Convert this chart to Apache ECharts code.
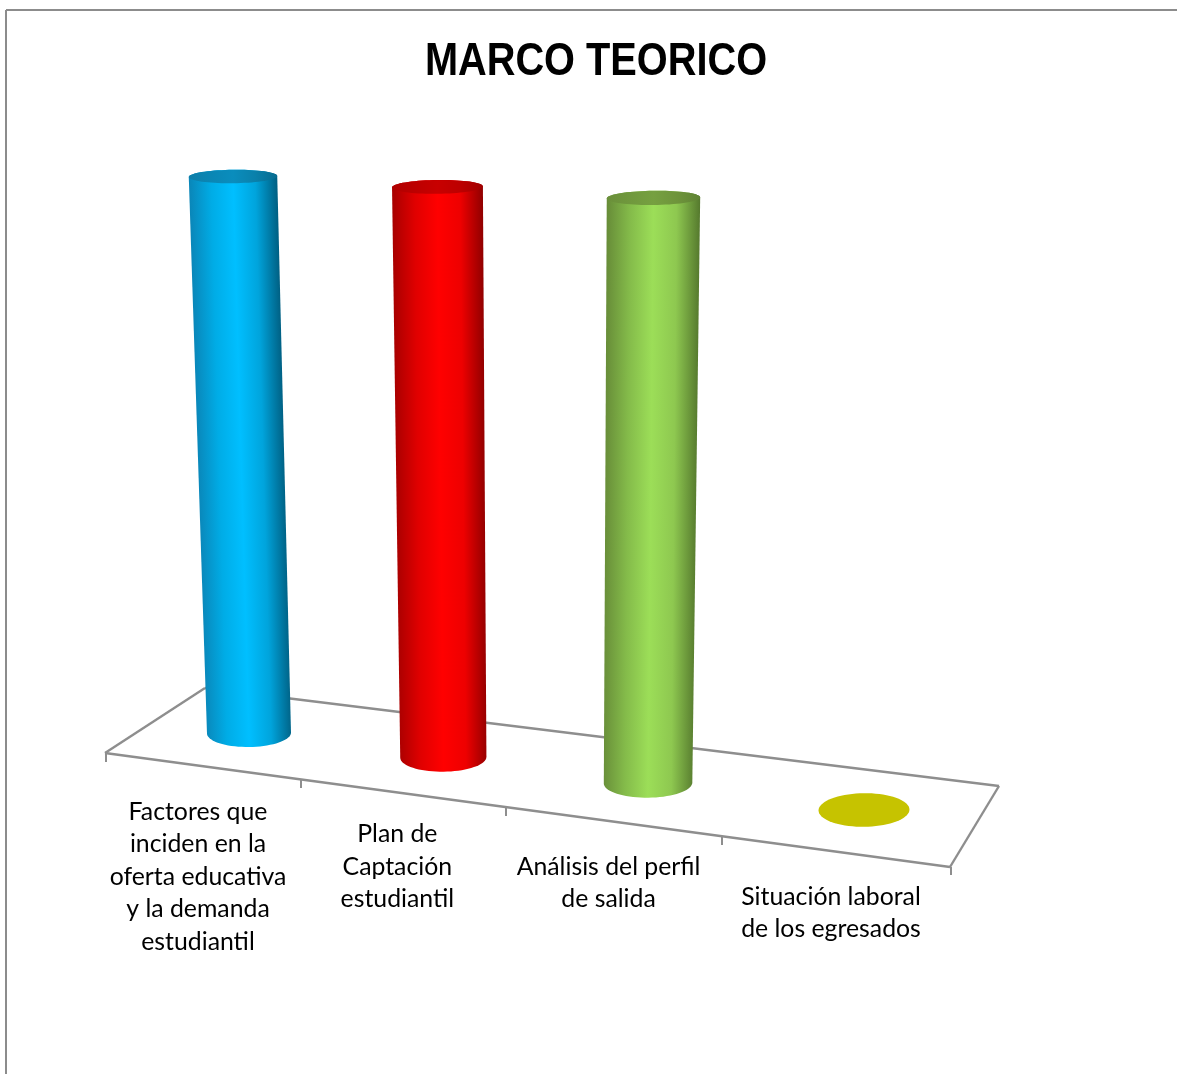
<!DOCTYPE html>
<html>
<head>
<meta charset="utf-8">
<style>html,body{margin:0;padding:0;background:#fff}#c{width:1177px;height:1074px}</style>
<script src="https://cdn.jsdelivr.net/npm/echarts@6/dist/echarts.min.js"></script>
</head>
<body>
<div id="c"></div>
<script>
const chartTitle = 'MARCO TEORICO';
const categories = [
  'Factores que\ninciden en la\noferta educativa\ny la demanda\nestudiantil',
  'Plan de\nCaptación\nestudiantil',
  'Análisis del perfil\nde salida',
  'Situación laboral\nde los egresados'
];
const values = [100, 100, 100, 0];
const bodyColors = [
  ['#0a86b8', '#00ace6', '#00bfff', '#00a4dc', '#005f82'],
  ['#a80000', '#e00000', '#ff0000', '#ee0000', '#900000'],
  ['#678c38', '#84bb4a', '#9cde58', '#8ec850', '#567a2e'],
  ['#c6c300', '#c6c300', '#c6c300', '#c6c300', '#c6c300']
];
const capColors = [
  ['#0f7ea8', '#0a86b4', '#0a8dbd', '#0a80aa', '#076a8e'],
  ['#b00000', '#bc0000', '#c80000', '#bc0000', '#a00000'],
  ['#6a8f3a', '#70983d', '#76a040', '#6e943b', '#5f8234'],
  ['#c6c300', '#c6c300', '#c6c300', '#c6c300', '#c6c300']
];
const labelShift = [[-51, 62.5], [-46, 60.5], [-39.5, 67.5], [-33, 70.5]];

/* Page-space layout of the tilted plot */
const GRID = {left: 100, top: 100, width: 900, height: 700};
const quad = [[249, 733], [864, 810], [882, 209.5], [233, 176.5]];
const dx1 = quad[1][0] - quad[2][0], dy1 = quad[1][1] - quad[2][1];
const dx2 = quad[3][0] - quad[2][0], dy2 = quad[3][1] - quad[2][1];
const sx = quad[0][0] - quad[1][0] + quad[2][0] - quad[3][0];
const sy = quad[0][1] - quad[1][1] + quad[2][1] - quad[3][1];
const den = dx1 * dy2 - dx2 * dy1;
const g = (sx * dy2 - dx2 * sy) / den;
const h = (dx1 * sy - sx * dy1) / den;
const A = quad[1][0] - quad[0][0] + g * quad[1][0], B = quad[3][0] - quad[0][0] + h * quad[3][0];
const D = quad[1][1] - quad[0][1] + g * quad[1][1], E = quad[3][1] - quad[0][1] + h * quad[3][1];
function project(px, py) {
  const u = (px - GRID.left) / GRID.width;
  const t = (GRID.top + GRID.height - py) / GRID.height;
  const s = (u - 0.125) / 0.75;
  const w = 1 + g * s + h * t;
  return {x: (A * s + B * t + quad[0][0]) / w, y: (D * s + E * t + quad[0][1]) / w, w: w, t: t, s: s};
}
const R = 42, RY0 = 14, RY1 = 6.4, TILT = -0.012;
function ringPoint(c, rx, ry, a) {
  const ex = rx * Math.cos(a), ey = ry * Math.sin(a);
  return [c.x + ex - ey * TILT, c.y + ey + ex * TILT];
}
function radii(c) {
  return {rx: R / c.w, ry: (RY0 * (1 - c.t) + RY1 * c.t) / c.w};
}
function ellipsePts(c) {
  const r = radii(c), pts = [];
  for (let i = 0; i < 72; i++) pts.push(ringPoint(c, r.rx, r.ry, i / 72 * 2 * Math.PI));
  return pts;
}
/* gradient runs across the cylinder, perpendicular to its leaning axis */
function grad(cols, base, top) {
  let ax = top.x - base.x, ay = top.y - base.y;
  const len = Math.hypot(ax, ay) || 1;
  ax /= len; ay /= len;
  const nx = -ay, ny = ax;
  const mx = (base.x + top.x) / 2, my = (base.y + top.y) / 2;
  const r = (radii(base).rx + radii(top).rx) / 2 + 1;
  return new echarts.graphic.LinearGradient(mx - nx * r, my - ny * r, mx + nx * r, my + ny * r, [
    {offset: 0, color: cols[0]},
    {offset: 0.25, color: cols[1]},
    {offset: 0.5, color: cols[2]},
    {offset: 0.75, color: cols[3]},
    {offset: 1, color: cols[4]}
  ], true);
}
function renderCylinder(params, api) {
  const i = api.value(0), v = api.value(1);
  const b0 = api.coord([i, 0]), t0 = api.coord([i, v]);
  const base = project(b0[0], b0[1]), top = project(t0[0], t0[1]);
  const kids = [];
  if (v > 0) {
    const rb = radii(base), rt = radii(top), pts = [];
    for (let k = 0; k <= 36; k++) pts.push(ringPoint(base, rb.rx, rb.ry, k / 36 * Math.PI));
    for (let k = 0; k <= 36; k++) pts.push(ringPoint(top, rt.rx, rt.ry, Math.PI + k / 36 * Math.PI));
    kids.push({type: 'polygon', shape: {points: pts}, style: {fill: grad(bodyColors[i], base, top)}});
    const capBase = {x: top.x, y: top.y + 40, w: top.w, t: top.t};
    kids.push({type: 'polygon', shape: {points: ellipsePts(top)}, style: {fill: grad(capColors[i], capBase, top)}});
  } else {
    const flat = Object.assign({}, base, {t: -0.2});
    kids.push({type: 'polygon', shape: {points: ellipsePts(flat)}, style: {fill: bodyColors[i][2]}});
  }
  kids.push({
    type: 'text', silent: true,
    style: {
      text: categories[i], x: base.x + labelShift[i][0], y: base.y + labelShift[i][1],
      align: 'center', verticalAlign: 'top',
      fontFamily: 'Lato, "Open Sans", sans-serif', fontSize: 24.8, lineHeight: 32.5, fill: '#000'
    }
  });
  return {type: 'group', children: kids};
}
const frameLine = (x1, y1, x2, y2, w, col) => ({
  type: 'line', z: -1, silent: true,
  shape: {x1, y1, x2, y2}, style: {stroke: col || '#8e8e8e', lineWidth: w || 2.4}
});
const chart = echarts.init(document.getElementById('c'), null, {renderer: 'canvas'});
chart.setOption({
  animation: false,
  backgroundColor: '#fff',
  grid: {left: GRID.left, top: GRID.top, width: GRID.width, height: GRID.height},
  xAxis: {type: 'category', data: categories, show: false},
  yAxis: {type: 'value', min: 0, max: 100, show: false},
  graphic: [
    {
      type: 'text', x: 596, y: 62, scaleX: 0.864, silent: true,
      style: {
        text: chartTitle, align: 'center', verticalAlign: 'middle',
        fontFamily: '"Liberation Sans", Arial, sans-serif', fontWeight: 'bold', fontSize: 46, fill: '#000'
      }
    },
    frameLine(6, 10, 1177, 10, 2, '#8c8c8c'),
    frameLine(6, 10, 6, 1074, 2, '#8c8c8c'),
    frameLine(105, 753, 205, 688),
    frameLine(205, 688, 999, 786),
    frameLine(999, 786, 950, 867),
    frameLine(105, 753, 950, 867),
    frameLine(106, 753, 106, 762, 2),
    frameLine(301, 779, 301, 788, 2),
    frameLine(506, 807, 506, 816, 2),
    frameLine(722, 836, 722, 845, 2),
    frameLine(951, 867, 951, 875, 2)
  ],
  series: [{
    type: 'custom', z: 5, clip: false,
    encode: {x: 0, y: 1},
    data: values.map((v, i) => [i, v]),
    renderItem: renderCylinder
  }]
});
</script>
</body>
</html>
